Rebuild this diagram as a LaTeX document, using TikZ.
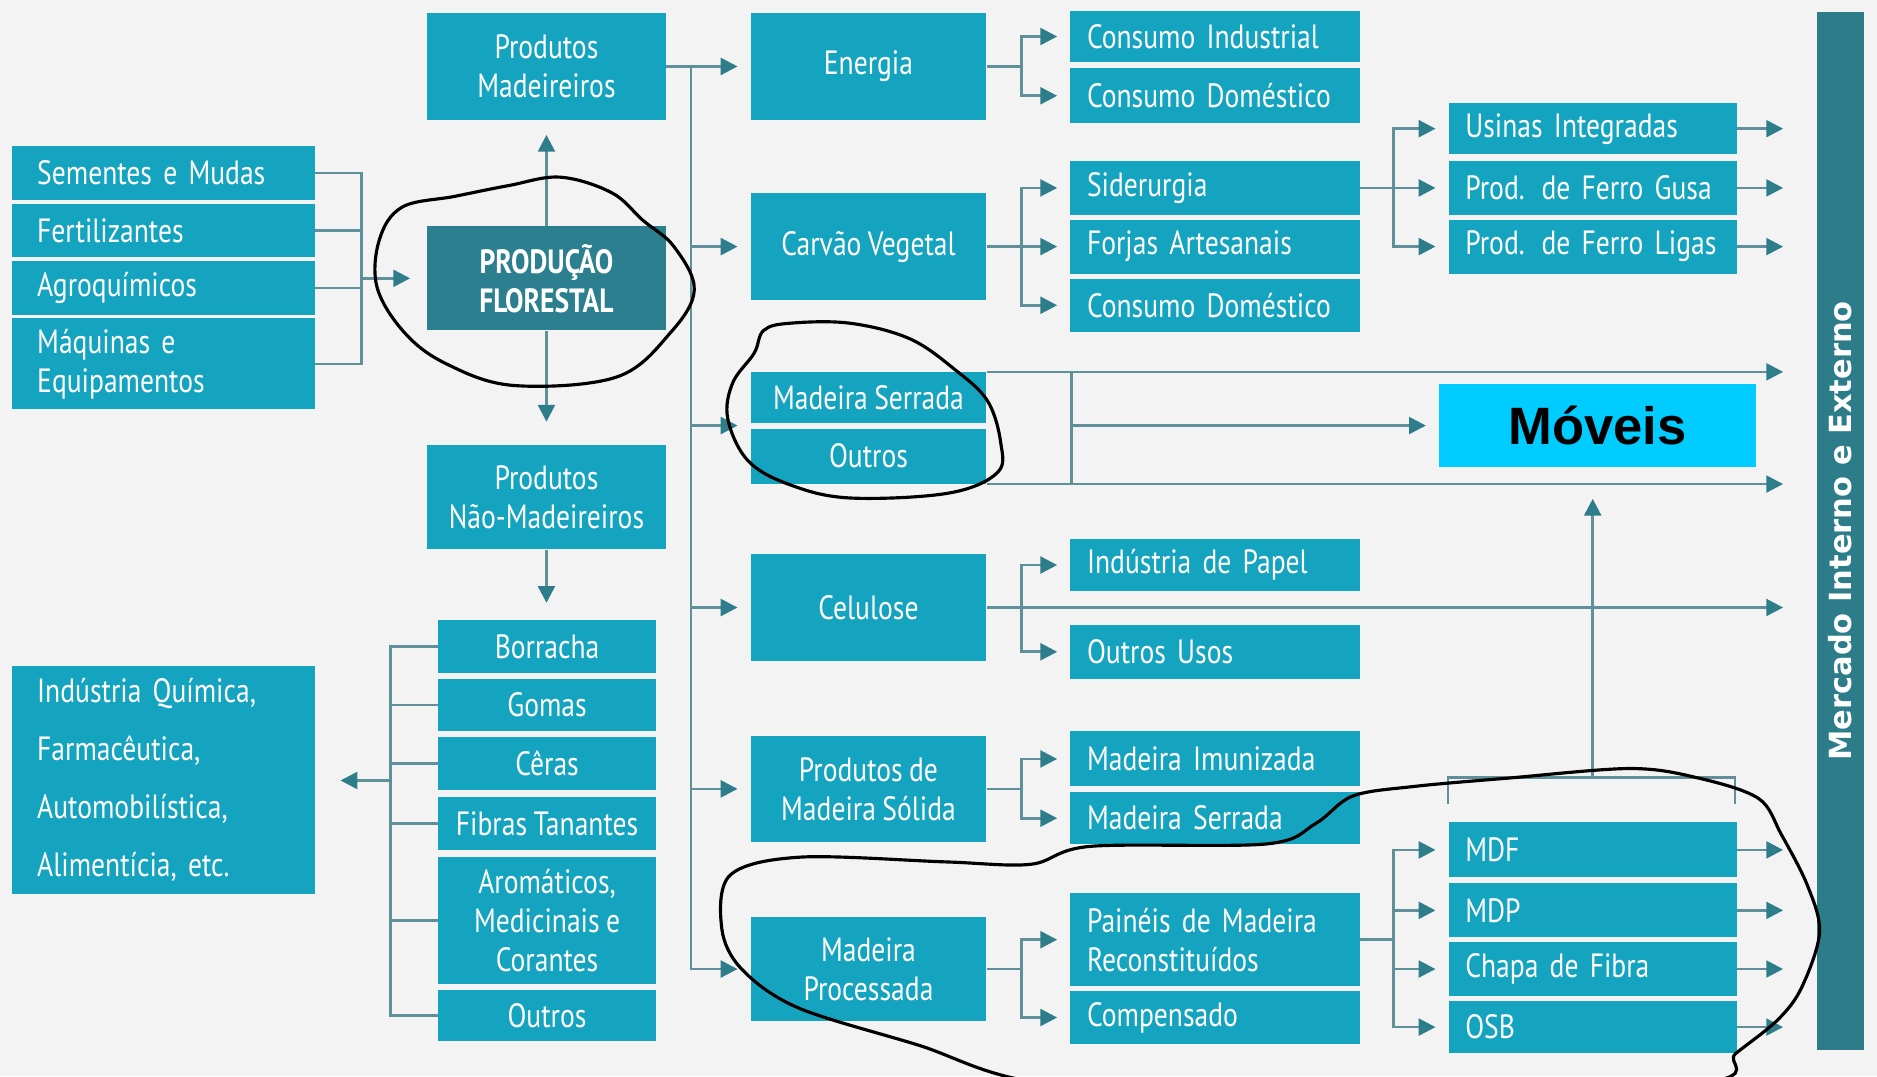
\documentclass[tikz,border=0pt]{standalone}
\usepackage{fontspec}
\setmainfont{PT Sans}[FakeStretch=0.82]
\newfontfamily\dejavu{DejaVu Sans}
\newfontfamily\arial{Liberation Sans}
\usetikzlibrary{arrows.meta,calc,positioning}

%Couleurs
\definecolor{fundo}{HTML}{F3F3F3}
\definecolor{caixacor}{HTML}{14A4BF}
\definecolor{centralcor}{HTML}{2B7F8F}
\definecolor{linhacor}{HTML}{5F9099}
\definecolor{pontacor}{HTML}{2D7D8B}
\definecolor{mercadocor}{HTML}{2C7C89}
\definecolor{moveiscor}{HTML}{00CCFF}

\newcommand{\letra}[1]{\fontsize{16}{#1}\selectfont\spaceskip=0.19em\relax}

\tikzset{
  caixa/.style={fill=caixacor, text=white, inner sep=0pt, align=center, font=\letra{18.5}},
  alt/.style={minimum height=#1*0.02cm},
  colL/.style={caixa, align=left, inner xsep=12pt, text width=120pt},
  colP/.style={caixa, minimum width=3.98cm},
  colN/.style={caixa, minimum width=3.64cm},
  colM/.style={caixa, minimum width=3.94cm},
  col3/.style={caixa, align=left, inner xsep=8pt, text width=121.7pt},
  col4/.style={caixa, align=left, inner xsep=8pt, text width=121.1pt},
  linha/.style={draw=linhacor, line width=1.3pt},
  seta/.style={linha, -{Triangle[length=8pt,width=8pt,color=pontacor]}, shorten >=6pt},
  saida/.style={seta, shorten >=16pt},
  rabisco/.style={draw=black, line width=1.5pt}
}

\begin{document}
\begin{tikzpicture}[x=0.02cm,y=-0.02cm]

\fill[fundo] (0,0) rectangle (1568,899);
\useasboundingbox (0,0) rectangle (1568,899);

%%% Insumos %%%
\node[colL, alt=45] (sem) at (136.5,144.5) {Sementes e Mudas};
\node[colL, alt=45] (fert) at (136.5,192.5) {Fertilizantes};
\node[colL, alt=45] (agro) at (136.5,240.5) {Agroquímicos};
\node[colL, alt=76] (maq) at (136.5,304) {Máquinas e\\Equipamentos};
\node[colL, alt=191, font=\letra{27.5}] (ind) at (136.5,651.5) {Indústria Química,\\Farmacêutica,\\Automobilística,\\Alimentícia, etc.};

%%% Produção florestal %%%
\node[colP, alt=87, fill=centralcor, font=\bfseries\letra{18.5}] (prodflo) at (456.5,232.5) {PRODUÇÃO\\FLORESTAL};
\node[colP, alt=89] (pmad) at (456.5,55.5) {Produtos\\Madeireiros};
\node[colP, alt=87] (pnmad) at (456.5,415.5) {Produtos\\Não-Madeireiros};

%Não-madeireiros
\node[colN, alt=44] (borr) at (457,540) {Borracha};
\node[colN, alt=44] (gomas) at (457,589) {Gomas};
\node[colN, alt=44] (ceras) at (457,638) {Cêras};
\node[colN, alt=44] (fibras) at (457,688) {Fibras Tanantes};
\node[colN, alt=106] (arom) at (457,769) {Aromáticos,\\Medicinais e\\Corantes};
\node[colN, alt=43] (outn) at (457,848.5) {Outros};

%%% Madeireiros %%%
\node[colM, alt=89] (ener) at (725.5,55.5) {Energia};
\node[colM, alt=90] (carv) at (725.5,206) {Carvão Vegetal};
\node[colM, alt=42] (mserr) at (725.5,332) {Madeira Serrada};
\node[colM, alt=46] (outr) at (725.5,381) {Outros};
\node[colM, alt=89] (celu) at (725.5,507.5) {Celulose};
\node[colM, alt=88] (pms) at (725.5,659) {Produtos de\\Madeira Sólida};
\node[colM, alt=87] (mproc) at (725.5,809.5) {Madeira\\Processada};

\node[col3, alt=43] (cind) at (1015,30.5) {Consumo Industrial};
\node[col3, alt=46] (cdom) at (1015,80) {Consumo Doméstico};
\node[col3, alt=45] (sider) at (1015,157) {Siderurgia};
\node[col3, alt=45] (forj) at (1015,206) {Forjas Artesanais};
\node[col3, alt=44] (cdomb) at (1015,255) {Consumo Doméstico};
\node[col3, alt=44] (papel) at (1015,472) {Indústria de Papel};
\node[col3, alt=45] (ousos) at (1015,544.5) {Outros Usos};
\node[col3, alt=46] (mimun) at (1015,634) {Madeira Imunizada};
\node[col3, alt=43] (mserb) at (1015,683.5) {Madeira Serrada};
\node[col3, alt=78] (paineis) at (1015,785) {Painéis de Madeira\\Reconstituídos};
\node[col3, alt=44] (comp) at (1015,850) {Compensado};

\node[col4, alt=43] (usinas) at (1330.5,107.5) {Usinas Integradas};
\node[col4, alt=45] (gusa) at (1330.5,157) {Prod. de Ferro Gusa};
\node[col4, alt=45] (ligas) at (1330.5,206) {Prod. de Ferro Ligas};
\node[col4, alt=46] (mdf) at (1330.5,710) {MDF};
\node[col4, alt=45] (mdp) at (1330.5,760.5) {MDP};
\node[col4, alt=45] (chapa) at (1330.5,809.5) {Chapa de Fibra};
\node[col4, alt=44] (osb) at (1330.5,858) {OSB};

%Mercado (node tourné : north = côté gauche)
\node[fill=mercadocor, text=white, rotate=90, inner sep=0pt, minimum width=17.34cm, minimum height=0.78cm, font=\dejavu\bfseries\fontsize{14.5}{16}\selectfont] (merc) at (1537.5,443.5) {Mercado Interno e Externo};
\node[fill=moveiscor, minimum width=5.3cm, minimum height=1.38cm, font=\arial\bfseries\fontsize{25}{30}\selectfont] (moveis) at (1334.5,355.5) {Móveis};

%%% Liaisons %%%
\coordinate (jent) at (302,232.5);
\draw[linha] (sem.east) -| (jent);
\draw[linha] (maq.east) -| (jent);
\draw[linha] (fert.east) -- (fert.east -| jent);
\draw[linha] (agro.east) -- (agro.east -| jent);
\draw[seta, shorten >=8pt] (jent) -- (prodflo.west);

\draw[seta, shorten >=7pt] (prodflo.north) -- (pmad.south);
\draw[seta, shorten >=11pt] (prodflo.south) -- (pnmad.north);
\draw[seta, shorten >=8pt] (pnmad.south) -- (pnmad.south |- borr.north);

%Tronc
\draw[seta] (pmad.east) -- ++(21,0) coordinate (tr) -- (ener.west);
\draw[seta] (tr) |- (mproc.west);
\coordinate (msj) at ($(mserr.south west)!0.5!(outr.north west)$);
\draw[seta] (tr |- carv.west) -- (carv.west);
\draw[seta] (tr |- msj) -- (msj);
\draw[seta] (tr |- celu.west) -- (celu.west);
\draw[seta] (tr |- pms.west) -- (pms.west);

%Energia
\draw[linha] (ener.east) -- ++(29,0) coordinate (je);
\draw[seta] (je) |- (cind.west);
\draw[seta] (je) |- (cdom.west);

%Carvão
\draw[seta] (carv.east) -- (forj.west);
\coordinate (jc) at ($(carv.east)+(29,0)$);
\draw[seta] (jc) |- (sider.west);
\draw[seta] (jc) |- (cdomb.west);

\draw[seta] (sider.east) -- (gusa.west);
\coordinate (js) at ($(sider.east)+(28,0)$);
\draw[seta] (js) |- (usinas.west);
\draw[seta] (js) |- (ligas.west);

%Madeira serrada
\draw[saida] (mserr.north east) -- (mserr.north east -| merc.north);
\draw[saida] (outr.south east) -- (outr.south east -| merc.north);
\coordinate (jm) at ($(mserr.south east)!0.5!(outr.north east)+(71,0)$);
\draw[linha] (mserr.north east -| jm) -- (outr.south east -| jm);
\draw[seta] (jm) -- (jm -| moveis.west);

%Celulose
\draw[saida] (celu.east) -- (celu.east -| merc.north);
\coordinate (jce) at ($(celu.east)+(29,0)$);
\draw[seta] (jce) |- (papel.west);
\draw[seta] (jce) |- (ousos.west);

%Madeira sólida
\draw[linha] (pms.east) -- ++(29,0) coordinate (jp);
\draw[seta] (jp) |- (mimun.west);
\draw[seta] (jp) |- (mserb.west);

%Madeira processada
\draw[linha] (mproc.east) -- ++(29,0) coordinate (jmp);
\draw[seta] (jmp) |- (paineis.west);
\draw[seta] (jmp) |- (comp.west);

\draw[linha] (paineis.east) -- ++(28,0) coordinate (jpa);
\foreach \n in {mdf,mdp,chapa,osb}
  \draw[seta] (jpa) |- (\n.west);

%Vers le marché
\foreach \n in {usinas,gusa,ligas,mdf,mdp,chapa,osb}
  \draw[saida] (\n.east) -- (\n.east -| merc.north);

%Accolade painéis
\draw[linha] ($(mdf.north west)+(0,-15)$) -- ++(0,-22) -| ($(mdf.north east)+(-2,-15)$);
\coordinate (jb) at ($(mdf.north west)!0.5!(mdf.north east)+(0,-37)$);
\draw[seta, shorten >=15pt] (jb) -- (jb |- moveis.south);

%Não-madeireiros
\coordinate (jn) at (326,652);
\draw[linha] (borr.west) -| (jn);
\draw[linha] (outn.west) -| (jn);
\foreach \n in {gomas,ceras,fibras,arom}
  \draw[linha] (\n.west) -- (\n.west -| jn);
\draw[seta, shorten >=12pt] (jn) -- (jn -| ind.east);

%%% Rabiscos %%%
\draw[rabisco] plot[smooth cycle, tension=0.6] coordinates {(468,148) (511,161) (537,184) (563,206) (580,242) (560,278) (515,315) (429,322) (373,304) (338,278) (315,240) (317,200) (336,173) (380,164) (425,155)};
\draw[rabisco] plot[smooth cycle, tension=0.6] coordinates {(638,276) (660,270) (710,270) (760,283) (798,309) (825,335) (836,370) (833,395) (792,412) (710,416) (660,405) (625,385) (608,350) (612,320) (630,295)};
\begin{scope}
\clip (0,0) rectangle (1568,899);
\draw[rabisco] plot[smooth cycle, tension=0.55] coordinates {(610,731) (669,716) (790,720) (861,722) (911,707) (1058,705) (1099,688) (1130,665) (1181,657) (1260,650) (1362,642) (1419,650) (1469,667) (1488,697) (1510,740) (1520,779) (1505,825) (1485,852) (1450,880) (1419,905) (1100,922) (870,905) (767,873) (667,842) (620,810) (603,776)};
\end{scope}

\end{tikzpicture}
\end{document}
